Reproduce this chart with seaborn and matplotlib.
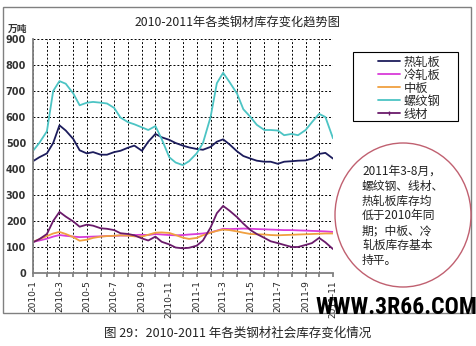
import pandas as pd
import matplotlib
matplotlib.use("Agg")
import matplotlib.pyplot as plt
import matplotlib.dates as mdates
from matplotlib import font_manager
from matplotlib.font_manager import FontProperties
from matplotlib.patches import Ellipse, Rectangle
from matplotlib.lines import Line2D
from matplotlib.ticker import FuncFormatter
import seaborn as sns

# Semi-monthly inventory readings, 2010-01 .. 2011-11 (unit: 10k tonnes)
dates = pd.date_range("2010-01-01", "2011-11-01", freq="SMS")

hot_rolled = [430, 445, 460, 500, 568, 548, 515, 472, 460, 465, 455, 455, 465, 470, 482,
              490, 470, 505, 535, 522, 512, 500, 490, 483, 477, 474, 485, 505, 514, 495,
              468, 450, 440, 432, 428, 428, 420, 428, 430, 432, 433, 440, 458, 462, 440]
cold_rolled = [120, 125, 132, 140, 146, 143, 140, 138, 139, 140, 141, 142, 143, 144, 144,
               146, 147, 146, 150, 148, 146, 145, 146, 148, 150, 152, 156, 163, 170, 169,
               170, 171, 170, 169, 168, 167, 166, 165, 165, 164, 163, 162, 161, 160, 158]
medium_plate = [120, 130, 142, 152, 158, 150, 138, 124, 128, 135, 140, 142, 143, 145, 144,
                141, 140, 147, 155, 156, 154, 146, 136, 131, 135, 145, 155, 162, 167, 165,
                160, 155, 150, 149, 148, 146, 145, 146, 147, 148, 149, 150, 151, 152, 152]
rebar = [470, 500, 545, 700, 738, 728, 690, 645, 655, 658, 655, 652, 635, 598, 580,
         572, 560, 550, 565, 515, 445, 425, 415, 430, 460, 500, 600, 730, 770, 735,
         690, 630, 600, 570, 550, 550, 548, 530, 535, 530, 550, 580, 612, 600, 518]
wire_rod = [118, 130, 150, 200, 235, 217, 198, 178, 186, 182, 172, 170, 165, 153, 150,
            145, 133, 125, 140, 120, 110, 98, 95, 97, 105, 125, 175, 230, 258, 240,
            215, 190, 165, 150, 135, 122, 115, 108, 100, 100, 108, 115, 135, 118, 92]

series_names = ["热轧板", "冷轧板", "中板", "螺纹钢", "线材"]
series_values = [hot_rolled, cold_rolled, medium_plate, rebar, wire_rod]
series_colors = ["#1c1c5c", "#d93cd9", "#f0a040", "#4cc4c4", "#6a1a6a"]

y_ticks = [0, 100, 200, 300, 400, 500, 600, 700, 800, 900]

title_text = "2010-2011年各类钢材库存变化趋势图"
unit_text = "万吨"
note_text = "2011年3-8月，\n螺纹钢、线材、\n热轧板库存均\n低于2010年同\n期；中板、冷\n轧板库存基本\n持平。"
caption_text = "图 29：2010-2011 年各类钢材社会库存变化情况"
watermark_text = "WWW.3R66.COM"

sns.set_theme(style="white")
plt.rcParams["font.family"] = ["Noto Sans CJK SC", "DejaVu Sans"]

W, H = 477, 346
fig = plt.figure(figsize=(W / 100, H / 100), dpi=100)
fig.patch.set_facecolor("white")


def fx(px):
    return px / W


def fy(py):
    return 1 - py / H


ax = fig.add_axes([fx(33), fy(273), fx(333 - 33), (273 - 39) / H])

for name, vals, col in zip(series_names, series_values, series_colors):
    df = pd.DataFrame({"date": dates, "value": vals})
    sns.lineplot(data=df, x="date", y="value", color=col, linewidth=1.3, ax=ax,
                 legend=False)

ax.set_xlim(dates[0], dates[-1])
ax.set_ylim(0, 900)
ax.set_yticks(y_ticks)
ax.set_xlabel("")
ax.set_ylabel("")

ax.xaxis.set_major_locator(mdates.MonthLocator())


def month_label(x, pos):
    d = mdates.num2date(x)
    return f"{d.year}-{d.month}" if d.month % 2 == 1 else ""


ax.xaxis.set_major_formatter(FuncFormatter(month_label))
ax.tick_params(axis="x", labelsize=6.5, rotation=90, length=3, color="#808080",
               pad=2, bottom=True)
ax.tick_params(axis="y", labelsize=7, length=0, pad=5)
for lab in ax.get_xticklabels():
    lab.set_family("DejaVu Sans")
for lab in ax.get_yticklabels():
    lab.set_family("DejaVu Sans")
    lab.set_fontweight("bold")
    lab.set_color("#333333")

ax.grid(True, linestyle=(0, (2, 2)), color="black", linewidth=0.7)
ax.set_axisbelow(True)
for side in ("top", "right"):
    ax.spines[side].set_visible(False)
for side in ("left", "bottom"):
    ax.spines[side].set_color("#808080")
    ax.spines[side].set_linewidth(1.3)

# outer chart frame
fig.add_artist(Rectangle((fx(3), fy(313)), fx(471 - 3), (313 - 7) / H, fill=False,
                         edgecolor="#808080", linewidth=1.0, transform=fig.transFigure))

fig.text(fx(238), fy(23), title_text, ha="center", va="center", fontsize=8.8,
         color="#222222")
fig.text(fx(8), fy(29), unit_text, ha="left", va="center", fontsize=7,
         fontweight="bold", color="#333333")

# legend: box drawn separately so the entries can sit with wide side margins
fig.add_artist(Rectangle((fx(353), fy(121)), fx(458 - 353), (121 - 52) / H,
                         fill=False, edgecolor="black", linewidth=0.8,
                         transform=fig.transFigure, zorder=5))
handles = []
for name, col in zip(series_names, series_colors):
    if name == "线材":
        handles.append(Line2D([], [], color=col, linewidth=1.3, marker="|",
                              markersize=3.5))
    else:
        handles.append(Line2D([], [], color=col, linewidth=1.3))
leg = fig.legend(handles, series_names, loc="upper left",
                 bbox_to_anchor=(fx(374), fy(52)), frameon=False,
                 fontsize=8.8, handlelength=1.8, labelspacing=0.0,
                 borderpad=0.3, handletextpad=0.3, borderaxespad=0)

fig.add_artist(Ellipse((fx(403), fy(215)), fx(136), 144 / H, fill=False,
                       edgecolor="#c06070", linewidth=1.0, transform=fig.transFigure))
fig.text(fx(362), fy(165), note_text, ha="left", va="top", fontsize=8.5,
         linespacing=1.18, color="#222222")

fig.text(fx(238), fy(333), caption_text, ha="center", va="center", fontsize=9,
         color="#222222")

# narrow bold face for the site mark, with a plain bold fallback
mark_family, mark_size = "Liberation Sans", 13.5
for fam in ["Liberation Sans Narrow", "DejaVu Sans Condensed", "Roboto Condensed"]:
    try:
        font_manager.findfont(FontProperties(family=fam, weight="bold"),
                              fallback_to_default=False)
        mark_family, mark_size = fam, 17
        break
    except ValueError:
        continue
fig.text(fx(315), fy(307), watermark_text, ha="left", va="center",
         fontsize=mark_size, fontweight="bold", family=mark_family, color="black")

fig.savefig("out.png", dpi=100)
